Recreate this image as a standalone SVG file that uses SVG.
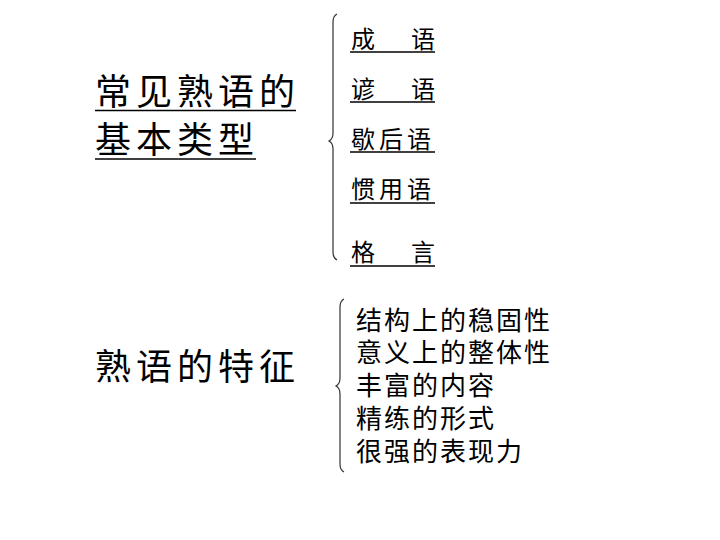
<svg xmlns="http://www.w3.org/2000/svg" width="720" height="540" viewBox="0 0 720 540">
<style>
text{font-family:"Liberation Sans","Noto Sans CJK SC","Noto Sans CJK JP",sans-serif;fill:#000;}
.t{font-size:36px;letter-spacing:5px;}
.r{font-size:24px;}
.b{font-size:26px;letter-spacing:2px;}
.u{stroke:#000;stroke-width:1.5;}
.br{fill:none;stroke:#333;stroke-width:1.2;}
</style>
<rect width="720" height="540" fill="#fff"/>
<g id="title1">
<text class="t" x="95" y="105">常见熟语的</text>
<text class="t" x="95" y="153">基本类型</text>
<line class="u" x1="95" y1="110.5" x2="296" y2="110.5"/>
<line class="u" x1="95" y1="159" x2="256" y2="159"/>
</g>
<g id="title2">
<text class="t" x="95" y="380">熟语的特征</text>
</g>
<g id="types">
<text class="r" x="351" y="48" letter-spacing="6">成　语</text>
<line class="u" x1="350" y1="52" x2="435" y2="52"/>
<text class="r" x="351" y="98" letter-spacing="6">谚　语</text>
<line class="u" x1="350" y1="102" x2="435" y2="102"/>
<text class="r" x="351" y="148" letter-spacing="4">歇后语</text>
<line class="u" x1="350" y1="152" x2="435" y2="152"/>
<text class="r" x="351" y="198" letter-spacing="4">惯用语</text>
<line class="u" x1="350" y1="203" x2="435" y2="203"/>
<text class="r" x="351" y="261" letter-spacing="6">格　言</text>
<line class="u" x1="350" y1="266" x2="435" y2="266"/>
</g>
<g id="features">
<text class="b" x="356" y="330">结构上的稳固性</text>
<text class="b" x="356" y="362">意义上的整体性</text>
<text class="b" x="356" y="395">丰富的内容</text>
<text class="b" x="356" y="428">精练的形式</text>
<text class="b" x="356" y="461">很强的表现力</text>
</g>
<g id="connectors">
<path class="br" d="M337,14 Q333,16 333,22 L333,133 Q333,139 329,141 Q333,143 333,149 L333,252 Q333,258 337,260"/>
<path class="br" d="M344,299 Q340,301 340,307 L340,378 Q340,384 336,386 Q340,388 340,394 L340,464 Q340,470 344,472"/>
</g>
</svg>
